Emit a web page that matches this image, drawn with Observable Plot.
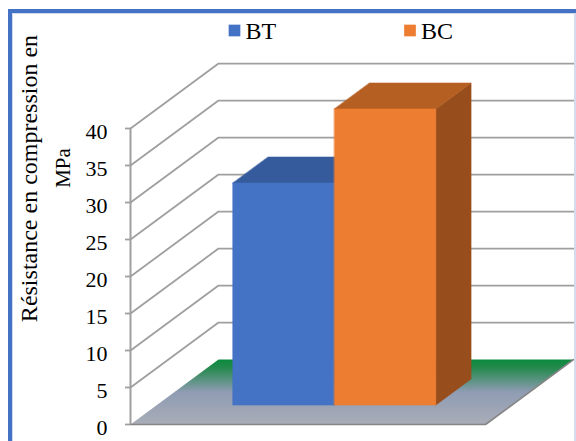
<!DOCTYPE html>
<html>
<head>
<meta charset="utf-8">
<script src="https://cdn.jsdelivr.net/npm/d3@7"></script>
<script src="https://cdn.jsdelivr.net/npm/@observablehq/plot@0.6"></script>
<style>
  html, body { margin: 0; padding: 0; background: #fff; }
  #chart { position: relative; width: 576px; height: 441px; overflow: hidden; background: #fff; }
  #chart svg { position: absolute; left: 0; top: 0; }
  .border { position: absolute; left: 8px; top: 9px; width: 620px; height: 520px;
            border-top: 4px solid #4472c4; border-left: 4px solid #4472c4;
            box-shadow: inset 1px 1px 0 #cfd8ec; pointer-events: none; }
  .edge { position: absolute; left: 574px; top: 13px; width: 2px; height: 440px; background: #d5dcee; }
</style>
</head>
<body>
<div id="chart"><div class="border"></div><div class="edge"></div></div>
<script>
// Series and values (compressive strength, MPa)
const series = ["BT", "BC"];
const values = [30, 40];
const frontColors = ["#4472c4", "#ed7d31"];
const topColors = ["#355b9d", "#b65f23"];
const sideColors = ["#2d4e8a", "#984e1c"];
const yTicks = [0, 5, 10, 15, 20, 25, 30, 35, 40];
const yLabelLines = ["Résistance en compression en", "MPa"];

// Oblique 3-D view: moving from the front to the back of the floor shifts a
// point by depthX category units and depthY value units.
const depthX = 0.248;
const depthY = 8.78;
const gapWidth = 1.5;   // space between clusters, as a fraction of a bar width
const depthGap = 1.5;   // space in front of / behind the bars, same unit
const barWidth = 1 / (series.length + gapWidth);
const sideGap = (gapWidth / 2) * barWidth;
const d0 = (depthGap / 2) / (1 + depthGap);
const d1 = 1 - d0;

const P = (c, v, d) => ({x: c + d * depthX, y: v + d * depthY});

// Wall gridlines: along the left wall, then across the back wall
const grid = yTicks.filter((v) => v > 0)
  .flatMap((v) => [P(0, v, 0), P(0, v, 1), P(1, v, 1)].map((p) => ({...p, v})));

// Floor
const floor = [P(0, 0, 0), P(1, 0, 0), P(1, 0, 1), P(0, 0, 1)];
const floorEdge = [P(0, 0, 0), P(1, 0, 0), P(1, 0, 1)];

// Bar faces (side, top, front) for each series, drawn back to front
const faces = series.flatMap((s, i) => {
  const c0 = sideGap + i * barWidth, c1 = c0 + barWidth, v = values[i];
  const shapes = [
    {id: s + "-side", color: sideColors[i], pts: [P(c1, 0, d0), P(c1, 0, d1), P(c1, v, d1), P(c1, v, d0)]},
    {id: s + "-top", color: topColors[i], pts: [P(c0, v, d0), P(c1, v, d0), P(c1, v, d1), P(c0, v, d1)]},
    {id: s + "-front", color: frontColors[i], pts: [P(c0, 0, d0), P(c1, 0, d0), P(c1, v, d0), P(c0, v, d0)]}
  ];
  return shapes.flatMap((f) => f.pts.map((p) => ({...p, id: f.id, color: f.color})));
});

const legendMarks = series.flatMap((s, i) => [
  Plot.dot([s], {frameAnchor: "top-left", dx: 104 + i * 175.5, dy: -98, symbol: "square",
                 r: 6.6, fill: frontColors[i], stroke: "none"}),
  Plot.text([s], {frameAnchor: "top-left", dx: 115 + i * 175.5, dy: -97.5, text: (d) => d,
                  textAnchor: "start", lineAnchor: "middle", fontSize: 24, fill: "#000"})
]);

const labelMark = (line, dx, dy, fontSize) =>
  Plot.text([line], {frameAnchor: "top-left", rotate: -90, dx, dy, fontSize,
                     textAnchor: "middle", lineAnchor: "middle", text: (d) => d, fill: "#000"});

const svg = Plot.plot({
  width: 576,
  height: 441,
  marginLeft: 130,
  marginRight: 91,
  marginTop: 128,
  marginBottom: 17,
  x: {domain: [0, 1], axis: null},
  y: {domain: [0, 40]},
  color: {type: "identity"},
  style: {fontFamily: "'Liberation Serif', 'Times New Roman', serif", background: "transparent", color: "#000"},
  marks: [
    Plot.line(grid, {x: "x", y: "y", z: "v", stroke: "#9f9f9f", strokeWidth: 1.8}),
    Plot.line(floor, {x: "x", y: "y", fill: "url(#floor-fill)", stroke: "none", curve: "linear-closed"}),
    Plot.line(floorEdge, {x: "x", y: "y", stroke: "#858585", strokeWidth: 1.6}),
    Plot.ruleX([0], {y1: 0, y2: 40, stroke: "#9f9f9f", strokeWidth: 2}),
    Plot.axisY({ticks: yTicks, tickSize: 5, tickFormat: () => "", stroke: "#9f9f9f", strokeWidth: 1.8, label: null}),
    Plot.axisY({ticks: yTicks, tickSize: 0, tickPadding: 23, dy: 3, fontSize: 22, fill: "#000", label: null}),
    Plot.line(faces, {x: "x", y: "y", z: "id", fill: "color", stroke: "color", strokeWidth: 0.6, curve: "linear-closed"}),
    labelMark(yLabelLines[0], -101, 50, 24),
    labelMark(yLabelLines[1], -67.5, 39.5, 21),
    ...legendMarks
  ]
});

// Floor gradient: green at the back fading to blue-grey at the front
const defs = d3.select(svg).insert("defs", ":first-child");
const grad = defs.append("linearGradient")
  .attr("id", "floor-fill").attr("x1", 0).attr("y1", 0).attr("x2", 0).attr("y2", 1);
[[0, "#0b8a3e"], [0.12, "#22894c"], [0.5, "#8f9cb3"], [1, "#a9adb8"]].forEach(([o, c]) =>
  grad.append("stop").attr("offset", o).attr("stop-color", c));

document.getElementById("chart").prepend(svg);
</script>
</body>
</html>
